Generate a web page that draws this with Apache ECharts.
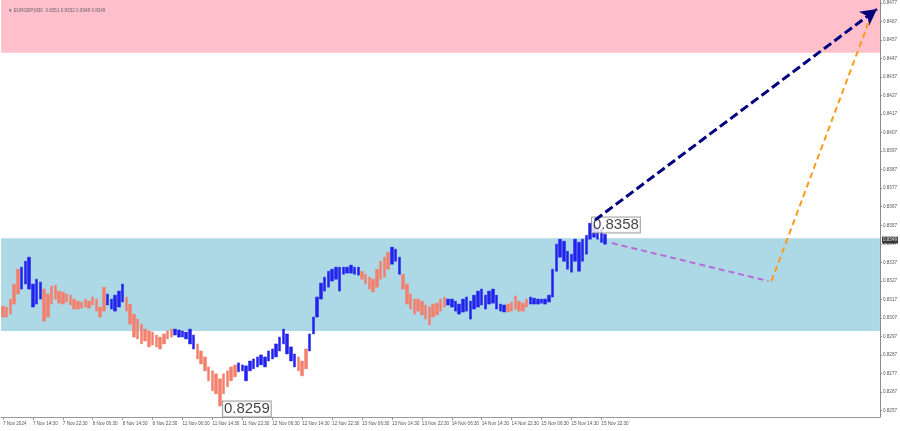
<!DOCTYPE html>
<html><head><meta charset="utf-8">
<script src="https://cdn.jsdelivr.net/npm/echarts@6/dist/echarts.min.js"></script>
<style>html,body{margin:0;padding:0;background:#fff}#c{width:900px;height:431px}</style>
</head><body><div id="c"></div>
<script>
// ---- data ----
const chartTitle = '\u25BC EURGBP,M30  0.8351 0.8352 0.8348 0.8349';
const timeLabels = ['7 Nov 2024','7 Nov 14:30','7 Nov 22:30','8 Nov 06:30','8 Nov 14:30','8 Nov 22:30',
  '11 Nov 06:30','11 Nov 14:30','11 Nov 22:30','12 Nov 06:30','12 Nov 14:30','12 Nov 22:30',
  '13 Nov 06:30','13 Nov 14:30','13 Nov 22:30','14 Nov 06:30','14 Nov 14:30','14 Nov 22:30',
  '15 Nov 06:30','15 Nov 14:30','15 Nov 22:30'];
const barsPerLabel = 8;
const totalSlots = 235;
const yTicks = [0.8257,0.8267,0.8277,0.8287,0.8297,0.8307,0.8317,0.8327,0.8337,0.8347,0.8357,0.8367,
  0.8377,0.8387,0.8397,0.8407,0.8417,0.8427,0.8437,0.8447,0.8457,0.8467,0.8477];
const yMin = 0.82536, yMax = 0.84785;
const highs = [
  0.83134,0.83129,0.83172,0.83253,0.83333,
  0.83344,0.83376,0.83398,0.83253,0.83279,0.83263,
  0.83226,0.83199,0.83242,0.83247,0.83215,0.83210,0.83199,0.83193,0.83172,0.83161,0.83156,0.83172,0.83161,0.83183,0.83172,0.83129,0.83236,
  0.83199,0.83172,0.83193,0.83215,0.83253,
  0.83183,0.83145,0.83091,0.83064,0.83037,0.83010,0.83000,0.82994,0.82978,0.82967,0.82984,0.83000,0.83010,
  0.83010,0.83005,0.83000,0.82994,0.83010,0.82978,
  0.82930,0.82892,0.82860,0.82806,0.82785,0.82769,0.82742,0.82769,0.82785,0.82806,0.82817,
  0.82828,0.82817,0.82812,0.82838,0.82849,0.82860,0.82871,0.82860,0.82892,0.82903,0.82930,0.82967,0.83010,0.82984,0.82914,0.82876,
  0.82860,0.82838,0.82903,
  0.82984,0.83075,0.83183,0.83258,0.83290,0.83322,0.83333,0.83344,0.83344,0.83344,0.83344,0.83355,0.83344,0.83344,
  0.83322,0.83306,0.83290,0.83279,0.83333,0.83376,0.83398,0.83425,
  0.83452,0.83441,0.83398,
  0.83306,0.83253,0.83199,0.83172,0.83172,0.83161,0.83140,0.83129,0.83145,0.83150,0.83172,0.83183,
  0.83172,0.83172,0.83161,0.83145,0.83172,0.83183,0.83161,0.83193,0.83215,0.83226,0.83193,0.83215,0.83226,0.83193,0.83145,0.83140,
  0.83145,0.83156,0.83188,0.83161,0.83150,0.83172,
  0.83183,0.83177,0.83172,0.83172,0.83172,0.83193,0.83333,0.83468,0.83495,0.83484,0.83430,0.83414,0.83495,0.83478,0.83495,0.83516,0.83581,0.83570,0.83559,0.83548,0.83522
];
const lows = [
  0.83075,0.83075,0.83091,0.83145,0.83199,
  0.83226,0.83253,0.83226,0.83129,0.83145,0.83172,
  0.83053,0.83075,0.83145,0.83172,0.83150,0.83145,0.83156,0.83140,0.83118,0.83118,0.83123,0.83129,0.83123,0.83140,0.83107,0.83075,0.83107,
  0.83140,0.83118,0.83107,0.83129,0.83156,
  0.83107,0.83037,0.82967,0.82957,0.82930,0.82946,0.82914,0.82924,0.82914,0.82903,0.82930,0.82957,0.82967,
  0.82978,0.82967,0.82967,0.82957,0.82930,0.82903,
  0.82849,0.82822,0.82785,0.82731,0.82677,0.82661,0.82596,0.82661,0.82699,0.82731,0.82753,
  0.82780,0.82785,0.82731,0.82785,0.82796,0.82806,0.82817,0.82806,0.82838,0.82849,0.82860,0.82892,0.82930,0.82876,0.82838,0.82806,
  0.82785,0.82758,0.82796,
  0.82892,0.82984,0.83075,0.83172,0.83215,0.83236,0.83269,0.83279,0.83215,0.83306,0.83312,0.83312,0.83306,0.83301,
  0.83279,0.83253,0.83226,0.83210,0.83236,0.83279,0.83290,0.83333,
  0.83360,0.83376,0.83306,
  0.83226,0.83145,0.83118,0.83091,0.83107,0.83086,0.83064,0.83032,0.83075,0.83086,0.83107,0.83129,
  0.83140,0.83129,0.83107,0.83091,0.83102,0.83107,0.83064,0.83118,0.83129,0.83140,0.83118,0.83145,0.83150,0.83118,0.83107,0.83102,
  0.83102,0.83107,0.83118,0.83107,0.83107,0.83129,
  0.83145,0.83145,0.83145,0.83150,0.83145,0.83156,0.83183,0.83322,0.83398,0.83376,0.83333,0.83317,0.83376,0.83322,0.83376,0.83414,0.83495,0.83505,0.83495,0.83478,0.83468
];
const waveLengths = [5,6,17,5,13,6,11,16,3,14,8,3,12,16,6,21];
const firstWaveUp = false;
const supportZone = [0.8300, 0.8350];
const targetZone = [0.8450, yMax];
const lastPrice = 0.8349;
const peakMark = {x: 157.5, y: 0.83571, text: '0.8358'};
const lowMark = {x: 58.8, y: 0.82579, text: '0.8259'};
const mainForecast = [[158.3, 0.83598], [233.7, 0.84736]];
const pullback = [[162.8, 0.83474], [204.7, 0.83269]];
const secondLeg = [[205.5, 0.83269], [231.6, 0.84671]];

// ---- build ----
const cats = [];
for (let i = 0; i < totalSlots; i++) cats.push(String(i));
const upData = [], downData = [];
let idx = 0, up = firstWaveUp;
waveLengths.forEach(len => {
  for (let k = 0; k < len; k++, idx++) {
    const d = [lows[idx], highs[idx], lows[idx], highs[idx]];
    if (up) { upData.push(d); downData.push('-'); }
    else { downData.push(d); upData.push('-'); }
  }
  up = !up;
});
const labelIdx = (i) => i % barsPerLabel === 0 && i / barsPerLabel < timeLabels.length;
const FONT = 'Liberation Sans, Arial, sans-serif';

const chart = echarts.init(document.getElementById('c'), null, {renderer: 'canvas'});
const dash = (color, width, arrow) => ({
  type: 'line', xAxisIndex: 1, yAxisIndex: 0, data: [], z: 6, silent: true,
  markLine: {
    silent: true, animation: false,
    symbol: ['none', arrow ? 'arrow' : 'none'], symbolSize: arrow ? [13, 16] : 0,
    label: {show: false},
    lineStyle: {color: color, width: width, type: arrow ? [9, 4] : [6, 4], opacity: 1},
    emphasis: {disabled: true},
    data: []
  }
});
const s1 = dash('#00007f', 3, true);
s1.markLine.data = [[{coord: mainForecast[0]}, {coord: mainForecast[1]}]];
const s2 = dash('#b86bd6', 2, false);
s2.markLine.data = [[{coord: pullback[0]}, {coord: pullback[1]}]];
const s3 = dash('#ff9a1a', 2, false);
s3.markLine.data = [[{coord: secondLeg[0]}, {coord: secondLeg[1]}]];

const boxLabel = {
  show: true, position: 'right', distance: 0, formatter: p => p.data.text,
  fontSize: 15, fontFamily: FONT, color: '#111',
  backgroundColor: '#fff', borderColor: '#8a8a8a', borderWidth: 1, padding: [1, 1, 0, 1], lineHeight: 14
};

chart.setOption({
  animation: false,
  backgroundColor: '#fff',
  title: {text: chartTitle, left: 3, top: 3,
    textStyle: {fontSize: 4.6, color: '#666', fontWeight: 'normal', fontFamily: FONT}},
  grid: {left: 0, right: 18, top: 0, bottom: 14, containLabel: false},
  xAxis: [{
    type: 'category', data: cats, boundaryGap: true,
    axisLine: {show: true, onZero: false, lineStyle: {color: '#9a9a9a', width: 1}},
    axisTick: {show: true, interval: labelIdx, alignWithLabel: true, length: 3, lineStyle: {color: '#9a9a9a'}},
    axisLabel: {show: true, interval: labelIdx, hideOverlap: false, formatter: (v, i) => timeLabels[i / barsPerLabel] || '',
      align: 'left', fontSize: 4.6, color: '#555', margin: 4, fontFamily: FONT},
    splitLine: {show: false}
  }, {
    type: 'value', min: -0.5, max: totalSlots - 0.5, show: false,
    axisLine: {onZero: false}
  }],
  yAxis: [{
    type: 'value', position: 'right', min: yMin, max: yMax, scale: true,
    axisLine: {show: true, onZero: false, lineStyle: {color: '#8a8a8a', width: 1}},
    axisTick: {show: true, length: 2, customValues: yTicks, lineStyle: {color: '#8a8a8a'}},
    axisLabel: {show: true, customValues: yTicks, formatter: v => v.toFixed(4), fontSize: 4.6, color: '#555',
      margin: 3, fontFamily: FONT},
    splitLine: {show: false}
  }],
  series: [
    {
      type: 'line', xAxisIndex: 1, yAxisIndex: 0, data: [], z: 1, silent: true,
      markArea: {silent: true, itemStyle: {opacity: 1},
        data: [
          [{yAxis: supportZone[0], itemStyle: {color: '#add8e6'}}, {yAxis: supportZone[1]}],
          [{yAxis: targetZone[0], itemStyle: {color: '#ffc0cb'}}, {yAxis: targetZone[1]}]
        ]}
    },
    {
      type: 'candlestick', name: 'up', data: upData, z: 3, barWidth: 3, silent: true,
      itemStyle: {color: '#2222ee', color0: '#2222ee', borderColor: '#2222ee', borderColor0: '#2222ee', borderWidth: 0.5}
    },
    {
      type: 'candlestick', name: 'down', data: downData, z: 3, barWidth: 3, silent: true,
      itemStyle: {color: '#f2806c', color0: '#f2806c', borderColor: '#f2806c', borderColor0: '#f2806c', borderWidth: 0.5}
    },
    {
      type: 'scatter', xAxisIndex: 1, yAxisIndex: 0, symbolSize: 0, z: 4, silent: true,
      data: [{value: [peakMark.x, peakMark.y], text: peakMark.text}, {value: [lowMark.x, lowMark.y], text: lowMark.text}],
      label: boxLabel
    },
    {
      type: 'scatter', xAxisIndex: 1, yAxisIndex: 0, symbolSize: 0, z: 7, silent: true, clip: false,
      data: [{value: [totalSlots - 0.5, lastPrice], text: lastPrice.toFixed(4)}],
      label: {show: true, position: 'right', distance: 2, formatter: p => p.data.text, fontSize: 4.6,
        fontFamily: FONT, color: '#fff', backgroundColor: '#111', padding: [1, 1, 1, 1]}
    },
    s1, s2, s3
  ]
});
</script></body></html>
